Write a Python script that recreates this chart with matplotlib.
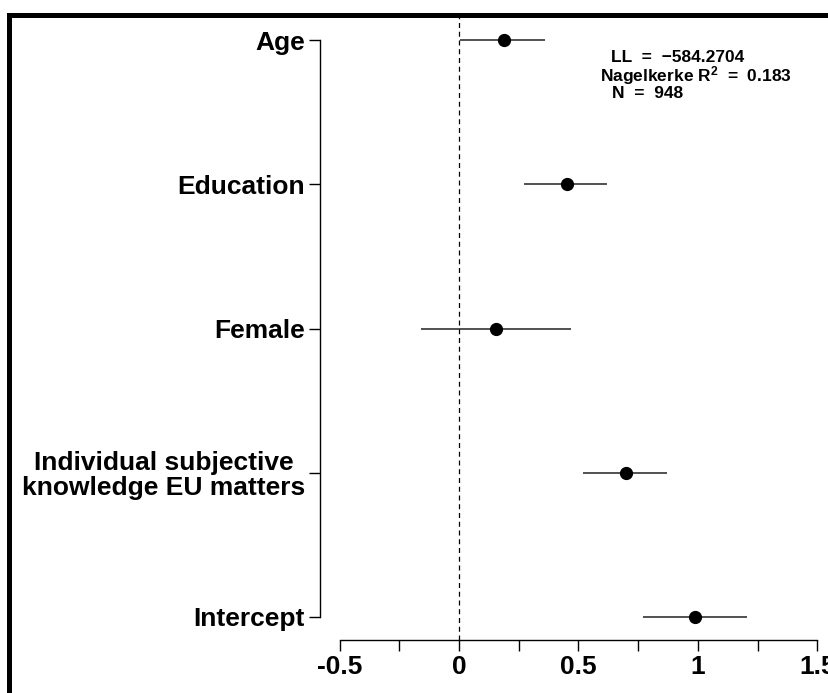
import matplotlib
matplotlib.use('Agg')
import matplotlib.pyplot as plt
from matplotlib import font_manager
from matplotlib.patches import Rectangle

# coefficient estimates with confidence bounds, top to bottom
labels = ['Age', 'Education', 'Female',
          'Individual subjective\nknowledge EU matters', 'Intercept']
estimate = [0.19, 0.45, 0.155, 0.70, 0.987]
lower = [0.004, 0.27, -0.157, 0.517, 0.770]
upper = [0.36, 0.62, 0.467, 0.869, 1.203]

xtick_vals = [-0.5, -0.25, 0, 0.25, 0.5, 0.75, 1, 1.25, 1.5]
xtick_labels = ['-0.5', '', '0', '', '0.5', '', '1', '', '1.5']

fit_lines = ['LL  =  \u2212584.2704', 'Nagelkerke R$^{2}$  =  0.183', 'N  =  948']

names = set(f.name for f in font_manager.fontManager.ttflist)
main_font = 'Liberation Sans' if 'Liberation Sans' in names else 'DejaVu Sans'
narrow_font = 'Liberation Sans Narrow' if 'Liberation Sans Narrow' in names else main_font

plt.rcParams['font.family'] = [main_font, 'DejaVu Sans']
plt.rcParams['mathtext.fontset'] = 'custom'
plt.rcParams['mathtext.rm'] = narrow_font + ':bold'
plt.rcParams['mathtext.it'] = narrow_font + ':bold'
plt.rcParams['mathtext.bf'] = narrow_font + ':bold'

W, H = 829, 693
fig = plt.figure(figsize=(W / 100, H / 100), dpi=100)

# plot region in pixels (R style, x range -0.58..1.58, partly cropped at right)
left_px, right_px, top_px, bottom_px = 320.4, 836.6, 17, 640
ax = fig.add_axes([left_px / W, (H - bottom_px) / H,
                   (right_px - left_px) / W, (bottom_px - top_px) / H])
ax.set_xlim(-0.58, 1.58)
ax.set_ylim(0.84, 5.16)

ypos = list(range(len(labels), 0, -1))

ax.axvline(0, color='black', lw=0.9, ls=(0, (4, 3)), zorder=1)
ax.hlines(ypos, lower, upper, color='#222222', lw=1.1, zorder=2)
ax.plot(estimate, ypos, 'o', color='black', ms=8.5, zorder=3)

for s in ['top', 'right']:
    ax.spines[s].set_visible(False)
ax.spines['left'].set_bounds(1, 5)
ax.spines['bottom'].set_bounds(-0.5, 1.5)
ax.spines['left'].set_linewidth(1.0)
ax.spines['bottom'].set_linewidth(1.0)

ax.set_yticks(ypos)
ax.set_yticklabels(labels, fontsize=19, fontweight='bold',
                   multialignment='center', linespacing=1.06)
ax.set_xticks(xtick_vals)
ax.set_xticklabels(xtick_labels, fontsize=19, fontweight='bold')
ax.tick_params(axis='both', length=8, width=1.0, pad=2.5)
ax.tick_params(axis='y', pad=3)

# model fit statistics
fit_x = [0.636, 0.590, 0.640]
fit_y = [4.882, 4.757, 4.628]
for tx, ty, t in zip(fit_x, fit_y, fit_lines):
    ax.text(tx, ty, t, ha='left', va='center', fontsize=12.5,
            family=narrow_font, fontweight='bold')

# thick frame around the figure, cropped on right and bottom
fig.patches.append(Rectangle((9.2 / W, -0.2), 1.2, (H - 15) / H + 0.2,
                             transform=fig.transFigure, fill=False,
                             lw=3.6, ec='black', clip_on=False))

fig.savefig('out.png', dpi=100)
